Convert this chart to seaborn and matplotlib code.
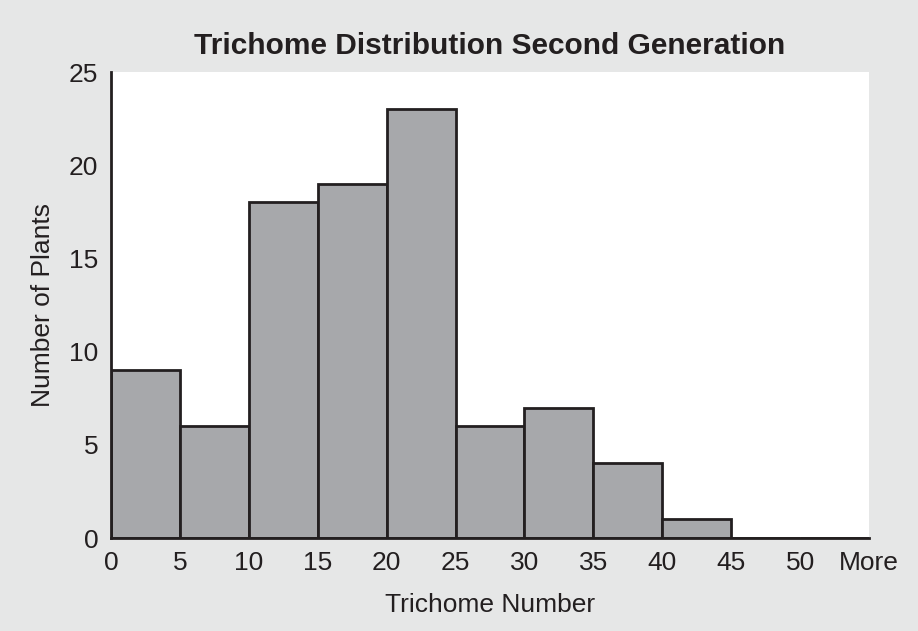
import numpy as np
import pandas as pd
import matplotlib
matplotlib.use('Agg')
import matplotlib.pyplot as plt
import seaborn as sns

# Bin edges and plant counts per bin (last bins: 45-50, 50-More)
bin_edges = [0, 5, 10, 15, 20, 25, 30, 35, 40, 45, 50, 55]
bin_starts = [0, 5, 10, 15, 20, 25, 30, 35, 40, 45, 50]
plant_counts = [9, 6, 18, 19, 23, 6, 7, 4, 1, 0, 0]
tick_labels = ['0', '5', '10', '15', '20', '25', '30', '35', '40', '45', '50', 'More']

df = pd.DataFrame({'trichomes': bin_starts, 'count': plant_counts})

sns.set_style('white')
plt.rcParams['font.family'] = ['Liberation Sans', 'DejaVu Sans']

fig = plt.figure(figsize=(9.18, 6.31), dpi=100, facecolor='#e6e7e7')
ax = fig.add_axes([111/918, 1 - 538/631, (869-111)/918, (538-72)/631])

sns.histplot(data=df, x='trichomes', weights='count', bins=bin_edges,
             color='#a7a8ab', alpha=1, edgecolor='#231f20', linewidth=2, ax=ax)

ax.set_xlim(0, 55)
ax.set_ylim(0, 25)
ax.set_xticks(bin_edges)
ax.set_xticklabels(tick_labels)
ax.set_yticks([0, 5, 10, 15, 20, 25])

for side in ['top', 'right']:
    ax.spines[side].set_visible(False)
for side in ['left', 'bottom']:
    ax.spines[side].set_color('#231f20')
    ax.spines[side].set_linewidth(2)

ax.tick_params(axis='both', direction='out', length=6, width=2, color='#231f20',
               labelsize=19, labelcolor='#231f20', pad=3)

ax.set_xlabel('Trichome Number', fontsize=19, color='#231f20', labelpad=13)
ax.set_ylabel('Number of Plants', fontsize=19, color='#231f20', labelpad=10)
ax.set_title('Trichome Distribution Second Generation', fontsize=21.5,
             fontweight='bold', color='#231f20', pad=13)

fig.savefig('out.png', dpi=100, facecolor=fig.get_facecolor())
